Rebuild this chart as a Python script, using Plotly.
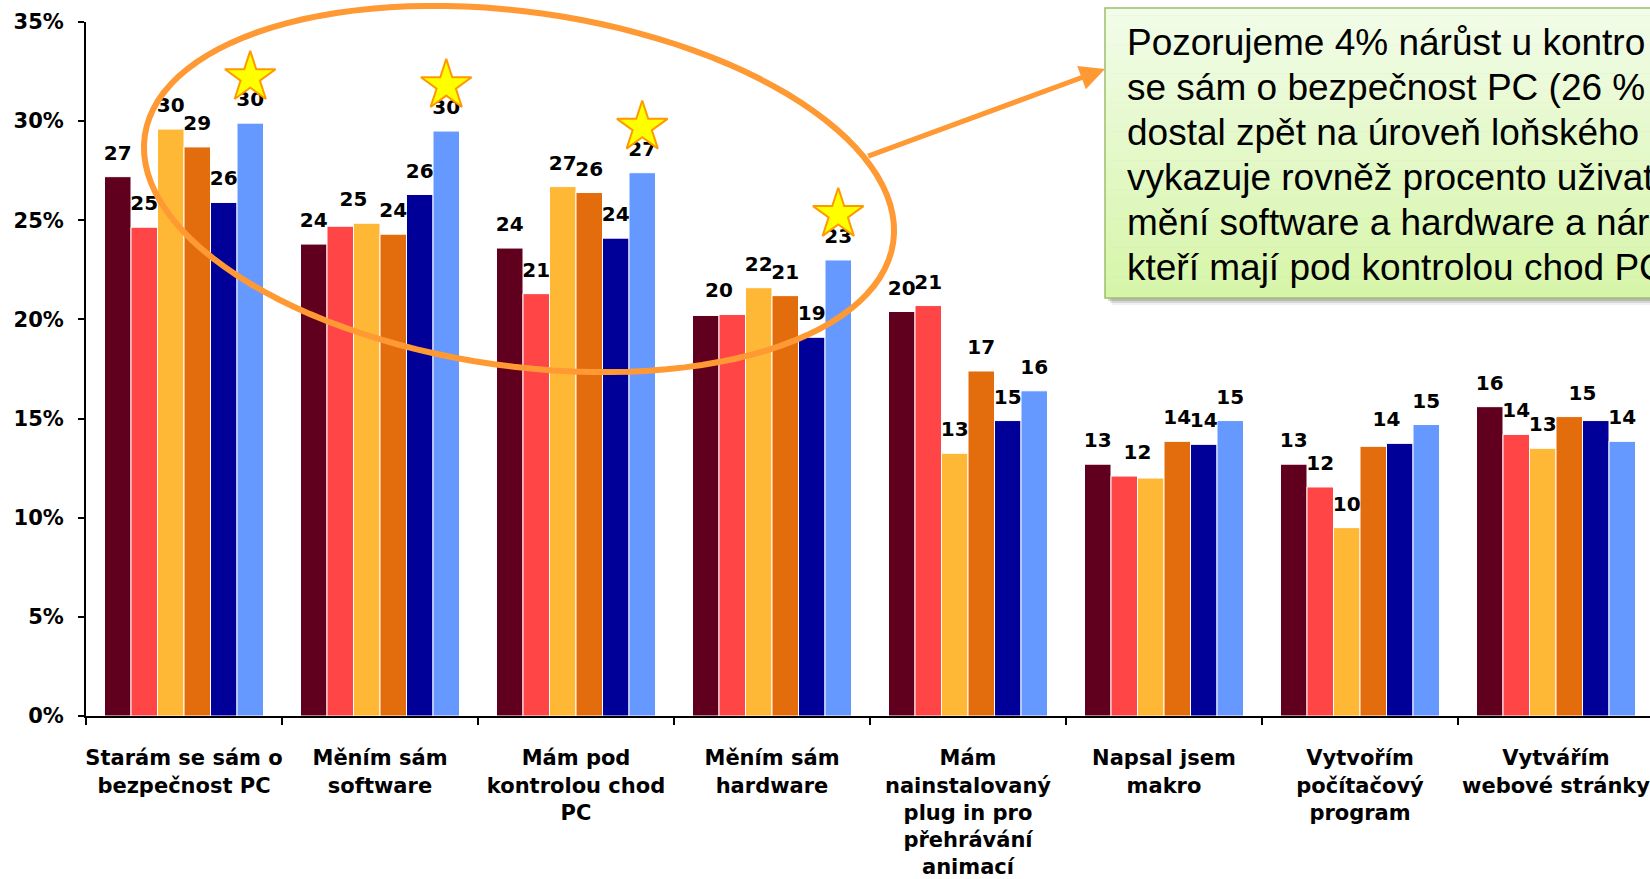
import math
import plotly.graph_objects as go

# ---------------- data ----------------
categories = [
    "Starám se sám o<br>bezpečnost PC",
    "Měním sám<br>software",
    "Mám pod<br>kontrolou chod<br>PC",
    "Měním sám<br>hardware",
    "Mám<br>nainstalovaný<br>plug in pro<br>přehrávání<br>animací",
    "Napsal jsem<br>makro",
    "Vytvořím<br>počítačový<br>program",
    "Vytvářím<br>webové stránky",
]

s1 = [27.2, 23.8, 23.6, 20.2, 20.4, 12.7, 12.7, 15.6]
s2 = [24.65, 24.7, 21.3, 20.25, 20.7, 12.1, 11.55, 14.2]
s3 = [29.6, 24.85, 26.7, 21.6, 13.25, 12.0, 9.5, 13.5]
s4 = [28.7, 24.3, 26.4, 21.2, 17.4, 13.85, 13.6, 15.1]
s5 = [25.9, 26.3, 24.1, 19.1, 14.9, 13.7, 13.75, 14.9]
s6 = [29.9, 29.5, 27.4, 23.0, 16.4, 14.9, 14.7, 13.85]

l1 = [27, 24, 24, 20, 20, 13, 13, 16]
l2 = [25, 25, 21, 20, 21, 12, 12, 14]
l3 = [30, 25, 27, 22, 13, 12, 10, 13]
l4 = [29, 24, 26, 21, 17, 14, 14, 15]
l5 = [26, 26, 24, 19, 15, 14, 14, 15]
l6 = [30, 30, 27, 23, 16, 15, 15, 14]

# labels shared by two neighbouring bars: (category, first series)
shared_labels = [(1, 1), (3, 0), (5, 1), (6, 3), (7, 3)]

star_categories = [0, 1, 2, 3]

y_ticks = [0, 5, 10, 15, 20, 25, 30, 35]

callout_lines = [
    "Pozorujeme 4% nárůst u kontro",
    "se sám o bezpečnost PC (26 %",
    "dostal zpět na úroveň loňského",
    "vykazuje rovněž procento uživat",
    "mění software a hardware a nár",
    "kteří mají pod kontrolou chod PC",
]

series = [s1, s2, s3, s4, s5, s6]
labels = [l1, l2, l3, l4, l5, l6]
colors = ["#60001E", "#FF4545", "#FFB835", "#E36C0C", "#000099", "#6699FF"]

# ---------------- geometry ----------------
W, H = 1650, 879
ML, MR, MT, MB = 86, 0, 22, 163
PW, PH = W - ML - MR, H - MT - MB
CAT_PX = 196.0
X_RANGE = [-0.5, -0.5 + PW / CAT_PX]
Y_RANGE = [0, 35]
BAR_W = 26.5 / CAT_PX
PX_PER_UNIT = PH / (Y_RANGE[1] - Y_RANGE[0])
LABEL_OFF = 22 / PX_PER_UNIT
STAR_OFF = 2.3

FONT = "DejaVu Sans"


def pp(px, py):
    """pixel -> paper coordinates"""
    return (px - ML) / PW, (H - MB - py) / PH


fig = go.Figure()
n = len(categories)

for s, (vals, col) in enumerate(zip(series, colors)):
    xs = [i + (s - 2.5) * BAR_W for i in range(n)]
    fig.add_trace(go.Bar(
        x=xs, y=vals, width=BAR_W,
        marker=dict(color=col, line=dict(color="white", width=1)),
        showlegend=False, hoverinfo="skip",
    ))

# data labels
lx, ly, lt = [], [], []
skip = set()
for (c, s) in shared_labels:
    skip.add((c, s + 1))
shared = set(shared_labels)
for c in range(n):
    for s in range(6):
        if (c, s) in skip:
            continue
        if (c, s) in shared:
            x = c + (s - 2.0) * BAR_W
            y = max(series[s][c], series[s + 1][c])
        else:
            x = c + (s - 2.5) * BAR_W
            y = series[s][c]
        lx.append(x)
        ly.append(y + LABEL_OFF)
        lt.append(str(labels[s][c]))

fig.add_trace(go.Scatter(
    x=lx, y=ly, text=lt, mode="text", textposition="middle center",
    textfont=dict(family=FONT, size=20, color="black", weight="bold"),
    showlegend=False, hoverinfo="skip", cliponaxis=False,
))

# stars
fig.add_trace(go.Scatter(
    x=[c + 2.5 * BAR_W for c in star_categories],
    y=[s6[c] + STAR_OFF for c in star_categories],
    mode="markers",
    marker=dict(symbol="star", size=38, color="#FFFF00",
                line=dict(color="#FF9900", width=2)),
    showlegend=False, hoverinfo="skip", cliponaxis=False,
))

shapes = []

# ellipse
cx, cy, ea, eb, th = 519, 189, 378, 177, math.radians(8.1)
pts = []
for k in range(121):
    t = 2 * math.pi * k / 120
    x = cx + ea * math.cos(t) * math.cos(th) - eb * math.sin(t) * math.sin(th)
    y = cy + ea * math.cos(t) * math.sin(th) + eb * math.sin(t) * math.cos(th)
    px, py = pp(x, y)
    pts.append(f"{px:.5f},{py:.5f}")
path = "M" + " L".join(pts) + " Z"
shapes.append(dict(type="path", path=path, xref="paper", yref="paper",
                   line=dict(color="#FF9933", width=6), layer="above"))

# callout box
bx0, bx1, by0, by1 = 1105, 1670, 8, 298
for off, alpha in [(7, 0.06), (5, 0.10), (3, 0.14)]:
    a0 = pp(bx0 + off, by0 + off)
    a1 = pp(bx1 + off, by1 + off)
    shapes.append(dict(type="rect", xref="paper", yref="paper",
                       x0=a0[0], y0=a0[1], x1=a1[0], y1=a1[1],
                       fillcolor=f"rgba(0,0,0,{alpha})", line=dict(width=0), layer="above"))
top_c = (242, 252, 233)
bot_c = (214, 245, 168)
NS = 40
for k in range(NS):
    f = (k + 0.5) / NS
    col = tuple(round(top_c[i] + (bot_c[i] - top_c[i]) * f) for i in range(3))
    ya = by0 + (by1 - by0) * k / NS
    yb = by0 + (by1 - by0) * (k + 1) / NS + 0.6
    a0 = pp(bx0, ya)
    a1 = pp(bx1, min(yb, by1))
    shapes.append(dict(type="rect", xref="paper", yref="paper",
                       x0=a0[0], y0=a0[1], x1=a1[0], y1=a1[1],
                       fillcolor="rgb(%d,%d,%d)" % col, line=dict(width=0), layer="above"))
a0 = pp(bx0, by0)
a1 = pp(bx1, by1)
shapes.append(dict(type="rect", xref="paper", yref="paper",
                   x0=a0[0], y0=a0[1], x1=a1[0], y1=a1[1],
                   fillcolor="rgba(0,0,0,0)", line=dict(color="#9DBE6A", width=1.5), layer="above"))

annotations = []
# arrow
tip = pp(1105, 69)
annotations.append(dict(
    x=tip[0], y=tip[1], xref="paper", yref="paper", text="",
    showarrow=True, ax=866.7 - 1105, ay=156.7 - 69,
    arrowcolor="#FF9933", arrowwidth=5, arrowhead=2, arrowsize=1, standoff=0,
))
# callout text
for k, line in enumerate(callout_lines):
    base = 55 + 45 * k
    p = pp(1125, base - 12.8)
    annotations.append(dict(
        x=p[0], y=p[1], xref="paper", yref="paper", text=line,
        showarrow=False, xanchor="left", yanchor="middle",
        font=dict(family="Liberation Sans", size=37, color="black"),
    ))

fig.update_layout(
    template="none",
    width=W, height=H,
    margin=dict(l=ML, r=MR, t=MT, b=MB, pad=0),
    paper_bgcolor="white", plot_bgcolor="white",
    barmode="overlay",
    showlegend=False,
    shapes=shapes,
    annotations=annotations,
    xaxis=dict(
        range=X_RANGE, tickmode="array", tickvals=list(range(n)), ticktext=categories,
        ticks="", showline=True, linecolor="black", linewidth=2,
        showgrid=False, zeroline=False, automargin=False,
        tickfont=dict(family=FONT, size=21, color="black", weight="bold"),
        ticklabelstandoff=22, ticklabeloverflow="allow",
        minor=dict(tickmode="array", tickvals=[i - 0.5 for i in range(n + 1)],
                   ticks="outside", ticklen=7, tickwidth=1.5, tickcolor="black",
                   showgrid=False),
    ),
    yaxis=dict(
        range=Y_RANGE, tickmode="array", tickvals=y_ticks,
        ticktext=[f"{v}%" for v in y_ticks],
        ticks="outside", ticklen=6, tickwidth=1.5, tickcolor="black",
        showline=True, linecolor="black", linewidth=2,
        showgrid=False, zeroline=False, automargin=False,
        tickfont=dict(family=FONT, size=21, color="black", weight="bold"),
        ticklabelstandoff=10,
    ),
)

fig.write_html(
    "out.html",
    config={"displayModeBar": False},
    post_script="document.body.style.margin='0';document.body.style.overflow='hidden';",
)
